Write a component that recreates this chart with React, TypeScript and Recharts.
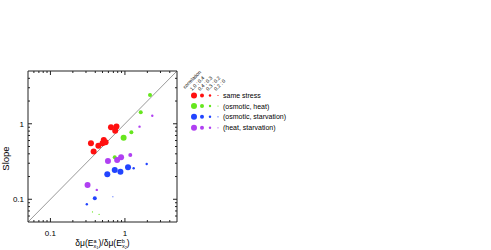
import { ScatterChart, Scatter, XAxis, YAxis, ReferenceLine } from 'recharts';

// marker radius for each correlation class (1.0:0.4, 0.4:0.3, 0.3:0.2, 0.2:0)
const sizeRadius = [3, 2, 1.2, 0.6];
const corrLabels = ['1.0 : 0.4', '0.4 : 0.3', '0.3 : 0.2', '0.2 : 0'];
const groupNames = ['same stress', '(osmotic, heat)', '(osmotic, starvation)', '(heat, starvation)'];
const groupColors = ['#ff1010', '#66e61e', '#2244ff', '#b040f2'];

const sameX = [0.35, 0.38, 0.44, 0.5, 0.52, 0.55, 0.65, 0.74, 0.77];
const sameY = [0.55, 0.43, 0.51, 0.55, 0.61, 0.57, 0.9, 0.81, 0.92];
const sameSize = [0, 0, 0, 0, 0, 0, 0, 0, 0];

const osmHeatX = [2.17, 1.63, 1.22, 0.96, 0.73, 0.367, 0.45];
const osmHeatY = [2.4, 1.42, 0.77, 0.654, 0.36, 0.068, 0.063];
const osmHeatSize = [1, 1, 1, 0, 1, 3, 3];

const osmStarvX = [0.58, 0.73, 0.87, 1.1, 1.31, 1.96, 0.394, 0.308, 0.689];
const osmStarvY = [0.214, 0.244, 0.232, 0.265, 0.257, 0.293, 0.103, 0.086, 0.108];
const osmStarvSize = [0, 0, 0, 0, 2, 2, 1, 2, 3];

const heatStarvX = [0.315, 0.419, 0.592, 0.786, 0.888, 1.18, 1.57, 2.33];
const heatStarvY = [0.155, 0.133, 0.321, 0.331, 0.36, 0.386, 0.916, 1.28];
const heatStarvSize = [0, 2, 0, 0, 0, 1, 2, 2];

const logTicks = [0.06, 0.07, 0.08, 0.09, 0.1, 0.2, 0.3, 0.4, 0.5, 0.6, 0.7, 0.8, 0.9, 1, 2, 3, 4];
const majorTicks = [0.1, 1];
const tickText: Record<number, string> = { 0.1: '0.1', 1: '1' };

const FONT = '"Liberation Sans", Arial, sans-serif';

const toPoints = (xs: number[], ys: number[], ss: number[]) =>
  xs.map((x, i) => ({ x, y: ys[i], s: ss[i] }));

const groups = [
  toPoints(sameX, sameY, sameSize),
  toPoints(osmHeatX, osmHeatY, osmHeatSize),
  toPoints(osmStarvX, osmStarvY, osmStarvSize),
  toPoints(heatStarvX, heatStarvY, heatStarvSize),
];

// inward ticks, gnuplot style; labels only on bottom / left
const makeTick = (side: 'bottom' | 'top' | 'left' | 'right') => (props: any) => {
  const { x, y, payload } = props;
  const v = payload.value;
  const major = majorTicks.includes(v);
  const len = major ? 4 : 2;
  let line;
  if (side === 'bottom') line = <line x1={x} y1={y} x2={x} y2={y - len} stroke='#222' />;
  else if (side === 'top') line = <line x1={x} y1={y} x2={x} y2={y + len} stroke='#222' />;
  else if (side === 'left') line = <line x1={x} y1={y} x2={x + len} y2={y} stroke='#222' />;
  else line = <line x1={x} y1={y} x2={x - len} y2={y} stroke='#222' />;
  let label = null;
  if (major && side === 'bottom') {
    label = (
      <text x={x} y={y + 14} textAnchor='middle' fontSize={8} fontFamily={FONT} fill='#000'>
        {tickText[v]}
      </text>
    );
  }
  if (major && side === 'left') {
    label = (
      <text x={x - 4} y={y + 3} textAnchor='end' fontSize={8} fontFamily={FONT} fill='#000'>
        {tickText[v]}
      </text>
    );
  }
  return (
    <g>
      {line}
      {label}
    </g>
  );
};

const XLabel = (props: any) => {
  const vb = props.viewBox;
  const cx = vb.x + vb.width / 2;
  return (
    <text x={cx} y={vb.y + 24} textAnchor='middle' fontSize={8.5} fontFamily={FONT} fill='#000'>
      δμ(E
      <tspan dy={-3} fontSize={5.5}>a</tspan>
      <tspan dx={-3} dy={5} fontSize={5.5}>x</tspan>
      <tspan dy={1} fontSize={4}>1</tspan>
      <tspan dy={-3} fontSize={8.5}>)/δμ(E</tspan>
      <tspan dy={-3} fontSize={5.5}>b</tspan>
      <tspan dx={-3} dy={5} fontSize={5.5}>x</tspan>
      <tspan dy={1} fontSize={4}>2</tspan>
      <tspan dy={-3} fontSize={8.5}>)</tspan>
    </text>
  );
};

const legendCols = [194, 202, 210, 218];
const legendRows = [95.5, 106, 116.8, 127.8];

const LegendBox = () => (
  <svg
    width={491}
    height={250}
    style={{ position: 'absolute', left: 0, top: 0, pointerEvents: 'none' }}
  >
    <text x={185} y={89} fontSize={5} fontFamily={FONT} fill='#000' transform='rotate(-45 185 89)'>
      correlation
    </text>
    {corrLabels.map((t, i) => (
      <text
        key={t}
        x={legendCols[i] - 2}
        y={91}
        fontSize={5}
        fontFamily={FONT}
        fill='#000'
        transform={`rotate(-45 ${legendCols[i] - 2} 91)`}
      >
        {t}
      </text>
    ))}
    {groupNames.map((name, r) => (
      <g key={name}>
        {legendCols.map((cx, c) => (
          <circle key={c} cx={cx} cy={legendRows[r]} r={sizeRadius[c]} fill={groupColors[r]} />
        ))}
        <text x={223} y={legendRows[r] + 2.5} fontSize={7} fontFamily={FONT} fill='#000'>
          {name}
        </text>
      </g>
    ))}
  </svg>
);

const axisCommon = {
  type: 'number' as const,
  scale: 'log' as const,
  domain: [0.05, 5],
  allowDataOverflow: true,
  ticks: logTicks,
  interval: 0,
  tickSize: 0,
  tickMargin: 0,
  axisLine: { stroke: '#222' },
  tickLine: false,
};

const App = () => {
  return (
    <div style={{ position: 'absolute', left: 0, top: 0, width: 491, height: 250 }}>
      <ScatterChart width={491} height={250} margin={{ top: 70, right: 313, bottom: 27, left: 27 }}>
        <XAxis
          {...axisCommon}
          dataKey='x'
          height={1}
          tick={makeTick('bottom')}
          label={{ content: XLabel }}
        />
        <XAxis {...axisCommon} xAxisId='top' orientation='top' dataKey='x' height={1} tick={makeTick('top')} />
        <YAxis
          {...axisCommon}
          dataKey='y'
          width={1}
          tick={makeTick('left')}
          label={{
            value: 'Slope',
            angle: -90,
            position: 'insideLeft',
            dx: -26,
            dy: 12,
            style: { fontSize: 9.5, fontFamily: FONT, fill: '#000', textAnchor: 'middle' },
          }}
        />
        <YAxis {...axisCommon} yAxisId='right' orientation='right' dataKey='y' width={1} tick={makeTick('right')} />
        <ReferenceLine
          segment={[
            { x: 0.05, y: 0.05 },
            { x: 5, y: 5 },
          ]}
          stroke='#999'
          strokeWidth={1}
        />
        {groups.map((data, g) => (
          <Scatter
            key={groupNames[g]}
            data={data}
            isAnimationActive={false}
            shape={(p: any) => (
              <circle cx={p.cx} cy={p.cy} r={sizeRadius[p.payload.s]} fill={groupColors[g]} />
            )}
          />
        ))}
      </ScatterChart>
      <LegendBox />
    </div>
  );
};

export default App;
